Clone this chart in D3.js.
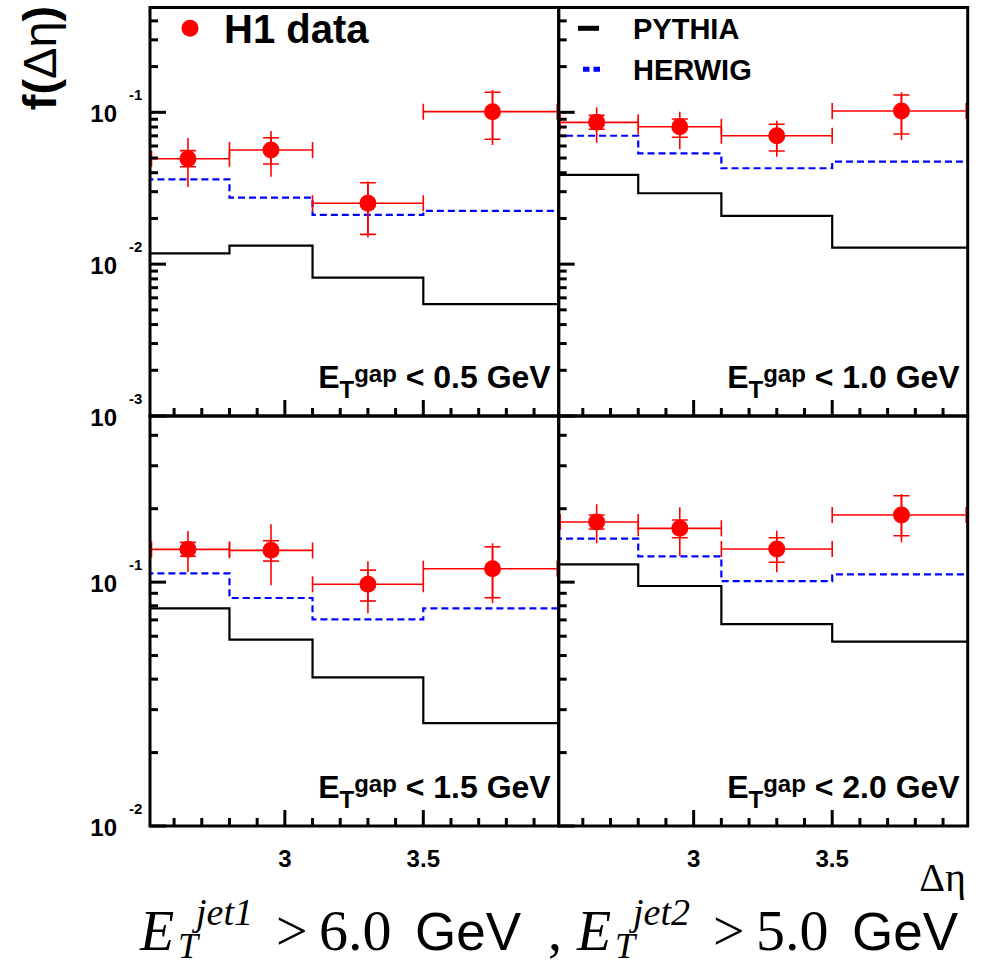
<!DOCTYPE html>
<html>
<head>
<meta charset="utf-8">
<script src="https://cdn.jsdelivr.net/npm/d3@7"></script>
<style>
  body { margin: 0; background: #fff; }
  svg { display: block; }
</style>
</head>
<body>
<svg id="chart" width="985" height="967"></svg>
<script>
// Delta-eta bins (same for all four panels)
const binEdges = [2.5, 2.8, 3.1, 3.5, 4.0];
const binCentres = [2.65, 2.95, 3.3, 3.75];

// one entry per panel: E_T^gap cut
const gapCuts = ["0.5", "1.0", "1.5", "2.0"];

// H1 data, f(delta eta) per bin
const h1Value = [
  [0.0494, 0.0565, 0.0252, 0.101],
  [0.0859, 0.0803, 0.0701, 0.102],
  [0.1363, 0.135, 0.098, 0.1135],
  [0.1764, 0.1662, 0.1367, 0.1884]
];
// inner (statistical) error bar ends, drawn with caps
const h1StatHi = [
  [0.0559, 0.068, 0.0344, 0.1355],
  [0.0955, 0.0904, 0.0834, 0.130],
  [0.1456, 0.1479, 0.112, 0.1396],
  [0.1884, 0.1798, 0.152, 0.226]
];
const h1StatLo = [
  [0.0438, 0.0457, 0.0157, 0.0664],
  [0.0773, 0.0685, 0.0556, 0.072],
  [0.1276, 0.122, 0.0837, 0.0863],
  [0.1651, 0.152, 0.1206, 0.155]
];
// outer (total) error bar ends
const h1TotHi = [
  [0.0678, 0.0753, 0.0351, 0.140],
  [0.108, 0.101, 0.0881, 0.1355],
  [0.162, 0.1726, 0.1217, 0.1443],
  [0.2084, 0.2026, 0.1625, 0.2298]
];
const h1TotLo = [
  [0.0322, 0.0377, 0.0150, 0.061],
  [0.063, 0.0571, 0.051, 0.0657],
  [0.110, 0.097, 0.0745, 0.0819],
  [0.1443, 0.128, 0.1097, 0.1456]
];

// Monte Carlo predictions
const pythia = [
  [0.01178, 0.01324, 0.00815, 0.00546],
  [0.0387, 0.0293, 0.0208, 0.01283],
  [0.0781, 0.0581, 0.0407, 0.0264],
  [0.1183, 0.0964, 0.0673, 0.057]
];
const herwig = [
  [0.0362, 0.0274, 0.0211, 0.0224],
  [0.0701, 0.0537, 0.0428, 0.0473],
  [0.1087, 0.0861, 0.0704, 0.0781],
  [0.1507, 0.1276, 0.101, 0.1077]
];

// axes
const xDomain = [2.513, 3.989];
const xMajorTicks = [3, 3.5];
const xTickLabels = ["3", "3.5"];
const yDomainTop = [0.001, 0.49];
const yDomainBottom = [0.01, 0.48];
const yLabelDecadesTop = [0.1, 0.01, 0.001];
const yLabelDecadesBottom = [0.1, 0.01];

// frame layout (pixels)
const frame = { left: 150, mid: 558.7, right: 967.7, top: 7.5, midY: 416, bottom: 826 };

const svg = d3.select("#chart");
const RED = "#ff0000", BLUE = "#0000ff", BOLD = "'Liberation Sans', Arial, Helvetica, sans-serif";
const SERIF = "'Liberation Serif', 'Times New Roman', serif";

const panels = [
  { x0: frame.left, x1: frame.mid, y0: frame.top, y1: frame.midY, dom: yDomainTop, labels: yLabelDecadesTop, showY: true, showX: false },
  { x0: frame.mid, x1: frame.right, y0: frame.top, y1: frame.midY, dom: yDomainTop, labels: yLabelDecadesTop, showY: false, showX: false },
  { x0: frame.left, x1: frame.mid, y0: frame.midY, y1: frame.bottom, dom: yDomainBottom, labels: yLabelDecadesBottom, showY: true, showX: true },
  { x0: frame.mid, x1: frame.right, y0: frame.midY, y1: frame.bottom, dom: yDomainBottom, labels: yLabelDecadesBottom, showY: false, showX: true }
];

// minor ticks on the log axis: 1..9 x each decade
function logTicks(dom) {
  const out = [];
  for (let e = Math.floor(Math.log10(dom[0])); e <= Math.ceil(Math.log10(dom[1])); e++) {
    for (let k = 1; k <= 9; k++) {
      const v = k * Math.pow(10, e);
      if (v >= dom[0] * 0.999 && v <= dom[1]) out.push({ v, major: k === 1 });
    }
  }
  return out;
}

panels.forEach((p, pi) => {
  const w = p.x1 - p.x0, h = p.y1 - p.y0;
  const g = svg.append("g").attr("transform", `translate(${p.x0},${p.y0})`);
  const x = d3.scaleLinear().domain(xDomain).range([0, w]);
  const y = d3.scaleLog().domain(p.dom).range([h, 0]);

  g.append("clipPath").attr("id", "clip" + pi)
    .append("rect").attr("width", w).attr("height", h);
  const plot = g.append("g").attr("clip-path", `url(#clip${pi})`);

  // step histograms
  const step = vals => d3.line()
    .x(d => x(d[0])).y(d => y(d[1]))
    .curve(d3.curveStepAfter)(binEdges.map((e, i) => [e, vals[Math.min(i, vals.length - 1)]]));

  plot.append("path").attr("d", step(pythia[pi]))
    .attr("fill", "none").attr("stroke", "#000").attr("stroke-width", 2.2);
  plot.append("path").attr("d", step(herwig[pi]))
    .attr("fill", "none").attr("stroke", BLUE).attr("stroke-width", 2.2)
    .attr("stroke-dasharray", "7,4");

  // H1 data with error bars
  const cx = v => Math.max(1.5, Math.min(w - 1.5, x(v)));
  binCentres.forEach((c, i) => {
    const px = x(c), py = y(h1Value[pi][i]);
    const eb = plot.append("g").attr("stroke", RED).attr("stroke-width", 1.6).attr("fill", "none");
    const xl = cx(binEdges[i]), xr = cx(binEdges[i + 1]);
    eb.append("line").attr("x1", xl).attr("x2", xr).attr("y1", py).attr("y2", py);
    [xl, xr].forEach(xx => eb.append("line").attr("x1", xx).attr("x2", xx).attr("y1", py - 8).attr("y2", py + 8));
    eb.append("line").attr("x1", px).attr("x2", px)
      .attr("y1", y(h1TotLo[pi][i])).attr("y2", y(h1TotHi[pi][i]));
    eb.append("line").attr("x1", px).attr("x2", px)
      .attr("y1", y(h1StatLo[pi][i])).attr("y2", y(h1StatHi[pi][i]));
    [h1StatLo[pi][i], h1StatHi[pi][i]].forEach(v =>
      eb.append("line").attr("x1", px - 8).attr("x2", px + 8).attr("y1", y(v)).attr("y2", y(v)));
    plot.append("circle").attr("cx", px).attr("cy", py).attr("r", 8.5).attr("fill", RED);
  });

  // ticks (inside the frame, left and bottom only)
  const ticks = g.append("g").attr("stroke", "#000").attr("stroke-width", 3);
  logTicks(p.dom).forEach(t => {
    ticks.append("line").attr("x1", 0).attr("x2", t.major ? 16 : 8)
      .attr("y1", y(t.v)).attr("y2", y(t.v));
  });
  d3.range(26, 40).map(k => k / 10).forEach(v => {
    const major = xMajorTicks.some(m => Math.abs(m - v) < 1e-6);
    ticks.append("line").attr("x1", x(v)).attr("x2", x(v))
      .attr("y1", h).attr("y2", h - (major ? 16 : 8));
  });

  // frame
  g.append("rect").attr("width", w).attr("height", h)
    .attr("fill", "none").attr("stroke", "#000").attr("stroke-width", 3);

  // y labels  10^-n
  if (p.showY) {
    p.labels.forEach(v => {
      const ty = y(v);
      g.append("text").attr("x", -33).attr("y", ty + 10).attr("text-anchor", "end")
        .attr("font-family", BOLD).attr("font-weight", "bold").attr("font-size", 24).text("10");
      g.append("text").attr("x", -21).attr("y", ty - 12)
        .attr("font-family", BOLD).attr("font-weight", "bold").attr("font-size", 15)
        .text(String(Math.round(Math.log10(v))));
    });
  }
  if (p.showX) {
    xMajorTicks.forEach((v, i) => {
      g.append("text").attr("x", x(v)).attr("y", h + 41).attr("text-anchor", "middle")
        .attr("font-family", BOLD).attr("font-weight", "bold").attr("font-size", 24).text(xTickLabels[i]);
    });
  }

  // E_T^gap label
  const lab = g.append("text").attr("x", w - 8).attr("y", h - 28).attr("text-anchor", "end")
    .attr("font-family", BOLD).attr("font-weight", "bold").attr("font-size", 32);
  lab.append("tspan").text("E");
  lab.append("tspan").attr("font-size", 24).attr("dy", 10).text("T");
  lab.append("tspan").attr("font-size", 24).attr("dy", -16).text("gap");
  lab.append("tspan").attr("dy", 6).text(` < ${gapCuts[pi]} GeV`);
});

// legend: H1 data
svg.append("circle").attr("cx", 190).attr("cy", 28.3).attr("r", 8.5).attr("fill", RED);
svg.append("text").attr("x", 224).attr("y", 43)
  .attr("font-family", BOLD).attr("font-weight", "bold").attr("font-size", 40).text("H1 data");

// legend: MC
svg.append("line").attr("x1", 578).attr("x2", 599).attr("y1", 28.3).attr("y2", 28.3)
  .attr("stroke", "#000").attr("stroke-width", 5);
svg.append("line").attr("x1", 583).attr("x2", 600).attr("y1", 69.3).attr("y2", 69.3)
  .attr("stroke", BLUE).attr("stroke-width", 5).attr("stroke-dasharray", "6.5,4");
svg.append("text").attr("x", 633).attr("y", 39)
  .attr("font-family", BOLD).attr("font-weight", "bold").attr("font-size", 29).text("PYTHIA");
svg.append("text").attr("x", 633).attr("y", 80)
  .attr("font-family", BOLD).attr("font-weight", "bold").attr("font-size", 29).text("HERWIG");

// y title f(Δη)
const yt = svg.append("text").attr("transform", "translate(56,58) rotate(-90)")
  .attr("text-anchor", "middle").attr("font-family", BOLD).attr("font-size", 47);
yt.append("tspan").attr("font-weight", "bold").text("f(");
yt.append("tspan").text("Δη");
yt.append("tspan").attr("font-weight", "bold").text(")");

// x title Δη
svg.append("text").attr("x", 966).attr("y", 891).attr("text-anchor", "end")
  .attr("font-family", SERIF).attr("font-size", 40).text("Δη");

// jet cuts line at the bottom
const cut = svg.append("g");
function piece(xp, yp, txt, fam, size, italic) {
  cut.append("text").attr("x", xp).attr("y", yp).attr("font-family", fam)
    .attr("font-size", size).attr("font-style", italic ? "italic" : "normal").text(txt);
}
const base = 950;
[[140, "1", "6.0"], [577, "2", "5.0"]].forEach(([x0, n, val], k) => {
  piece(x0, base, "E", SERIF, 56, true);
  piece(x0 + 56, base - 25, "jet" + n, SERIF, 38, true);
  piece(x0 + 38, base + 8, "T", SERIF, 36, true);
  piece(x0 + 136, base, ">", SERIF, 56, false);
  piece(x0 + 179, base, val, SERIF, 58, false);
  piece(x0 + 275, base, "GeV", BOLD, 53, false);
  if (k === 0) piece(x0 + 408, base, ",", SERIF, 56, false);
});
</script>
</body>
</html>
